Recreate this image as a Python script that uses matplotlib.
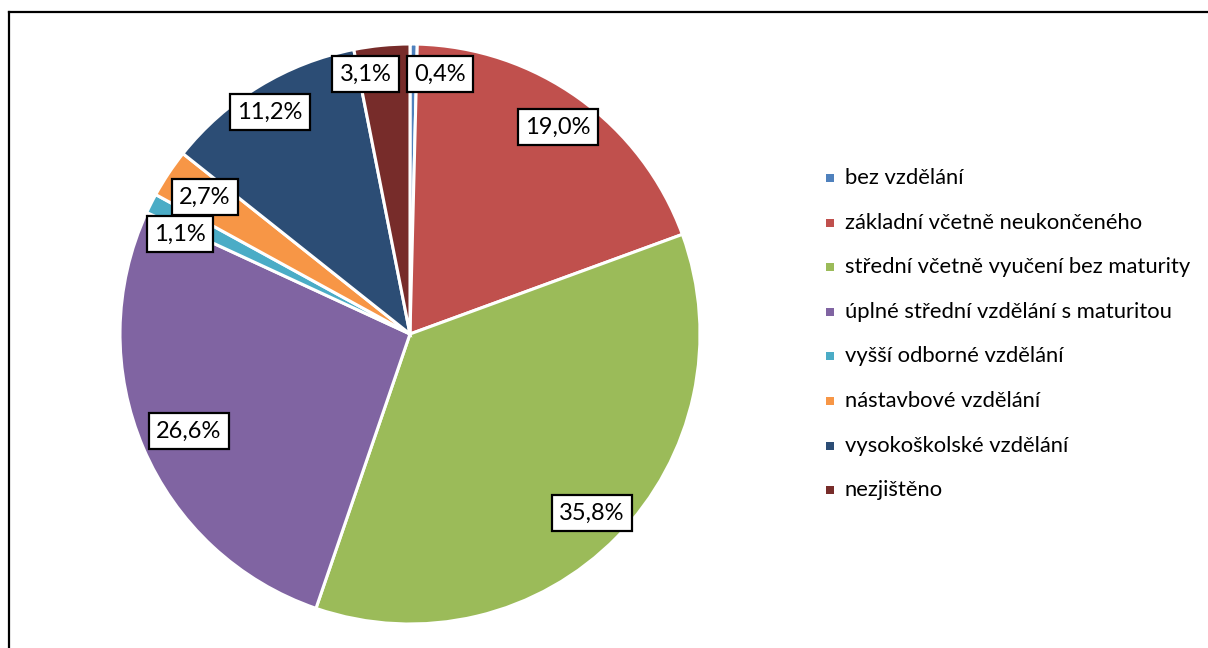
import matplotlib
matplotlib.use("Agg")
import matplotlib.pyplot as plt
from matplotlib.patches import Rectangle
from matplotlib.lines import Line2D

categories = [
    "bez vzdělání",
    "základní včetně neukončeného",
    "střední včetně vyučení bez maturity",
    "úplné střední vzdělání s maturitou",
    "vyšší odborné vzdělání",
    "nástavbové vzdělání",
    "vysokoškolské vzdělání",
    "nezjištěno",
]
shares = [0.4, 19.0, 35.8, 26.6, 1.1, 2.7, 11.2, 3.1]
colors = ["#4F81BD", "#C0504D", "#9BBB59", "#8064A2",
          "#4BACC6", "#F79646", "#2C4D75", "#772C2A"]

# label anchor points, in units of the pie radius
label_xy = [(0.103, 0.897), (0.510, 0.714), (0.628, -0.617), (-0.762, -0.334),
            (-0.793, 0.345), (-0.707, 0.472), (-0.483, 0.766), (-0.152, 0.897)]

plt.rcParams["font.family"] = ["Lato", "DejaVu Sans"]

W, H = 1208, 648
fig = plt.figure(figsize=(W / 100, H / 100), dpi=100)

cx, cy, r = 410, 648 - 334, 290
half = 300
ax = fig.add_axes([(cx - half) / W, (cy - half) / H, 2 * half / W, 2 * half / H])

ax.pie(shares, colors=colors, startangle=90, counterclock=False, radius=1,
       wedgeprops=dict(edgecolor="white", linewidth=2.2))
ax.set_xlim(-half / r, half / r)
ax.set_ylim(-half / r, half / r)
ax.set_aspect("equal")
ax.axis("off")

for v, (x, y) in zip(shares, label_xy):
    ax.text(x, y, f"{v:.1f}".replace(".", ",") + "%", ha="center", va="center",
            fontsize=17, color="black",
            bbox=dict(boxstyle="square,pad=0.32", fc="white", ec="black", lw=1.6))

# legend
lx, ly0, step = 830, 178, 44.6
for i, (name, c) in enumerate(zip(categories, colors)):
    y = ly0 + i * step
    fig.add_artist(Rectangle(((lx - 4) / W, (H - y - 4) / H), 8 / W, 8 / H,
                             transform=fig.transFigure, fc=c, ec="none"))
    fig.text((lx + 15) / W, (H - y) / H, name, ha="left", va="center",
             fontsize=15.8, color="black")

# outer frame (top and left edges)
fig.add_artist(Line2D([9 / W, 1.0], [(H - 12) / H] * 2, transform=fig.transFigure,
                      color="black", lw=1.6))
fig.add_artist(Line2D([9 / W] * 2, [0, (H - 12) / H], transform=fig.transFigure,
                      color="black", lw=1.6))

fig.savefig("out.png", dpi=100, facecolor="white")
